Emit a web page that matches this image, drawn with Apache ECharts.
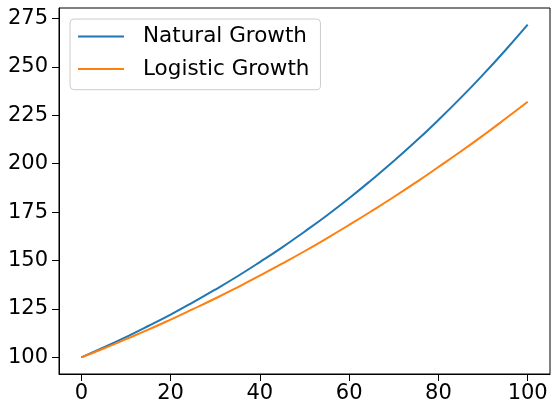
<!DOCTYPE html>
<html><head><meta charset="utf-8">
<script src="https://cdn.jsdelivr.net/npm/echarts@6/dist/echarts.min.js"></script>
<style>html,body{margin:0;padding:0;background:#fff}#c{width:553px;height:404px}</style>
</head><body><div id="c"></div>
<script>
const timeValues = [0,5,10,15,20,25,30,35,40,45,50,55,60,65,70,75,80,85,90,95,100];
const naturalGrowth = [100,105.1,110.5,116.2,122.1,128.4,135.0,141.9,149.2,156.8,164.9,173.3,182.2,191.6,201.4,211.7,222.6,234.0,246.0,258.6,271.8];
const logisticGrowth = [100,104.6,109.4,114.3,119.5,124.9,130.4,136.2,142.2,148.4,154.8,161.5,168.4,175.5,182.8,190.4,198.3,206.3,214.6,223.2,232.0];
const xTicks = [0,20,40,60,80,100];
const yTicks = [100,125,150,175,200,225,250,275];
const seriesNames = ['Natural Growth','Logistic Growth'];

const font = 'DejaVu Sans';
const chart = echarts.init(document.getElementById('c'), null, {renderer:'canvas'});
chart.setOption({
  animation:false,
  grid:{left:59,right:3,top:8,bottom:29,show:true,borderColor:'#000',borderWidth:1,backgroundColor:'transparent'},
  legend:{
    orient:'vertical',left:70,top:19,
    data:seriesNames,
    icon:'rect',itemWidth:46,itemHeight:2,itemGap:8.6,
    padding:[5.4,11,8.7,8],
    backgroundColor:'rgba(255,255,255,0.8)',borderColor:'#cccccc',borderWidth:1,borderRadius:4,
    textStyle:{fontFamily:font,fontSize:21.5,color:'#000',lineHeight:24,padding:[0,0,0,14]}
  },
  xAxis:{type:'value',min:-5,max:105,
    axisLine:{show:true,onZero:false,lineStyle:{color:'#000',width:1}},
    splitLine:{show:false},
    axisTick:{show:true,length:7,lineStyle:{color:'#000',width:1},customValues:xTicks},
    axisLabel:{fontFamily:font,fontSize:21,color:'#000',margin:9,customValues:xTicks}
  },
  yAxis:{type:'value',min:91.41,max:280.42,
    axisLine:{show:true,onZero:false,lineStyle:{color:'#000',width:1}},
    splitLine:{show:false},
    axisTick:{show:true,length:7,lineStyle:{color:'#000',width:1},customValues:yTicks},
    axisLabel:{fontFamily:font,fontSize:21,color:'#000',margin:11,customValues:yTicks}
  },
  series:[
    {name:seriesNames[0],type:'line',data:timeValues.map((t,i)=>[t,naturalGrowth[i]]),showSymbol:false,smooth:true,lineStyle:{color:'#1f77b4',width:2},itemStyle:{color:'#1f77b4'}},
    {name:seriesNames[1],type:'line',data:timeValues.map((t,i)=>[t,logisticGrowth[i]]),showSymbol:false,smooth:true,lineStyle:{color:'#ff7f0e',width:2},itemStyle:{color:'#ff7f0e'}}
  ]
});
</script></body></html>
